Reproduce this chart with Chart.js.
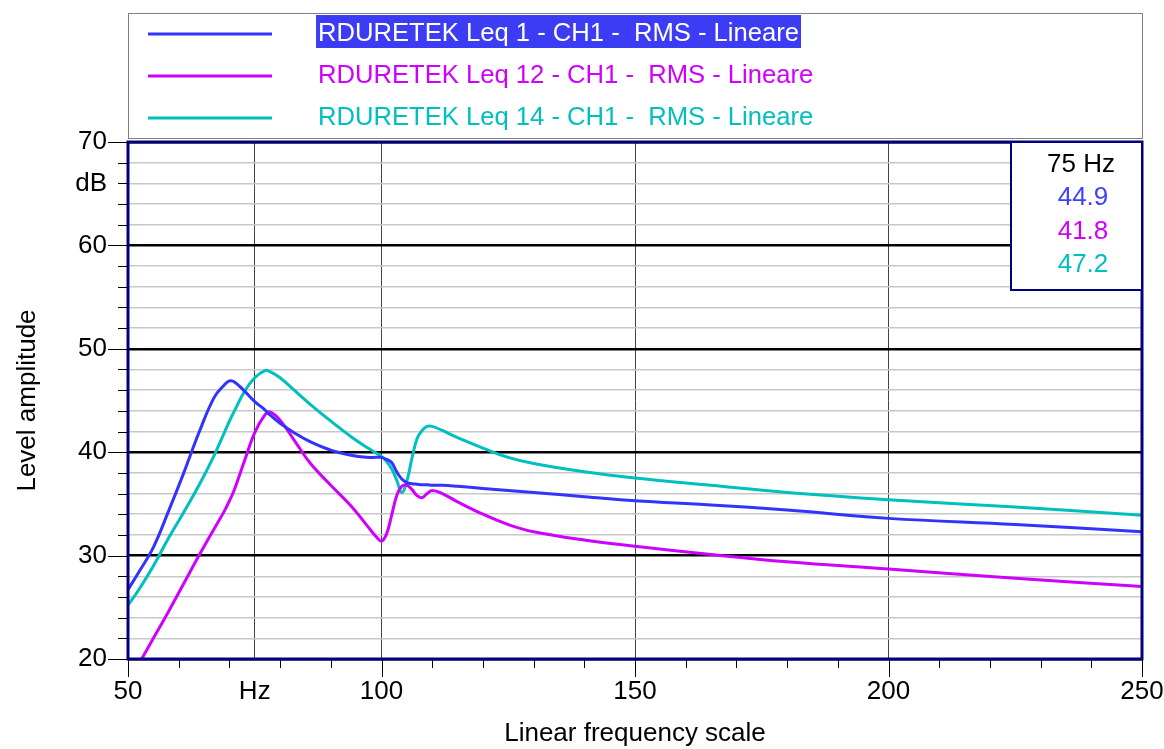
<!DOCTYPE html>
<html>
<head>
<meta charset="utf-8">
<script src="https://cdn.jsdelivr.net/npm/chart.js@4.4.1/dist/chart.umd.min.js"></script>
<style>
  html, body { margin: 0; padding: 0; background: #fff; }
  #wrap { width: 1164px; height: 749px; }
</style>
</head>
<body>
<div id="wrap"><canvas id="chart" width="1164" height="749"></canvas></div>
<script>
// frequency points (Hz) shared by the three traces
var freqs = [50, 52, 55, 58, 61, 64, 67, 69, 70, 71, 73, 75, 77, 78, 80, 83, 86, 90, 94, 97, 99, 100,
             101, 102, 103, 104, 105, 106, 107, 108, 109, 110, 112, 115, 120, 125, 130, 140, 150, 165, 180, 200, 225, 250];

var leq1 = [26.7, 28.3, 30.8, 34.3, 38.0, 41.9, 45.3, 46.5, 46.9, 46.8, 45.9, 44.9, 44.1, 43.6, 42.8, 41.8, 41.0, 40.2, 39.7, 39.5, 39.5, 39.5,
            39.3, 39.0, 38.1, 37.4, 37.05, 36.95, 36.9, 36.85, 36.85, 36.8, 36.8, 36.7, 36.5, 36.3, 36.1, 35.7, 35.3, 34.9, 34.4, 33.6, 33.0, 32.3];

var leq12 = [17.7, 19.4, 22.0, 24.6, 27.3, 30.0, 32.6, 34.3, 35.3, 36.4, 39.2, 41.9, 43.6, 43.9, 43.1, 41.0, 38.9, 36.8, 34.8, 33.0, 31.8, 31.4,
             32.1, 33.9, 35.8, 36.7, 36.8, 36.4, 35.8, 35.6, 36.0, 36.3, 36.0, 35.2, 34.0, 33.0, 32.3, 31.5, 30.9, 30.1, 29.4, 28.7, 27.8, 27.0];

var leq14 = [25.2, 26.6, 29.0, 31.7, 34.2, 36.8, 39.7, 41.9, 43.0, 44.0, 45.9, 47.2, 47.9, 47.8, 47.2, 45.9, 44.6, 43.0, 41.5, 40.5, 39.9, 39.6,
             39.1, 38.4, 37.3, 36.1, 37.2, 39.4, 41.3, 42.1, 42.5, 42.5, 42.1, 41.4, 40.4, 39.5, 38.9, 38.1, 37.5, 36.8, 36.1, 35.4, 34.7, 33.9];

var seriesNames = ["RDURETEK Leq 1 - CH1 -  RMS - Lineare",
                   "RDURETEK Leq 12 - CH1 -  RMS - Lineare",
                   "RDURETEK Leq 14 - CH1 -  RMS - Lineare"];
var seriesColors = ["#3333ff", "#d000ff", "#00bfbf"];

var cursorFreq = 75;
var cursorValues = ["44.9", "41.8", "47.2"];

var xTicks = [50, 60, 70, 75, 80, 90, 100, 110, 120, 130, 140, 150, 160, 170, 180, 190, 200, 210, 220, 230, 240, 250];
var xVertLines = [75, 100, 150, 200];

var FONT = "'Liberation Sans', Arial, sans-serif";

function toPoints(ys) {
    return freqs.map(function (f, i) { return { x: f, y: ys[i] }; });
}

var datasets = [leq1, leq12, leq14].map(function (ys, i) {
    return {
        label: seriesNames[i],
        data: toPoints(ys),
        borderColor: seriesColors[i],
        borderWidth: 3,
        pointRadius: 0,
        tension: 0.4,
        fill: false
    };
});

// legend box, cursor readout, frame and tick marks
var decorations = {
    id: "decorations",
    afterDraw: function (chart) {
        var ctx = chart.ctx;
        var area = chart.chartArea;
        var xs = chart.scales.x, ys = chart.scales.y;
        ctx.save();

        // frame
        ctx.strokeStyle = "#000080";
        ctx.lineWidth = 3;
        ctx.strokeRect(area.left, area.top, area.right - area.left, area.bottom - area.top);

        // tick marks
        ctx.strokeStyle = "#000";
        ctx.lineWidth = 1;
        ys.ticks.forEach(function (t) {
            var py = Math.round(ys.getPixelForValue(t.value)) + 0.5;
            var len = t.value % 10 === 0 ? 20 : 10;
            ctx.beginPath();
            ctx.moveTo(area.left - len, py);
            ctx.lineTo(area.left, py);
            ctx.stroke();
        });
        xs.ticks.forEach(function (t) {
            if (t.value === cursorFreq) return;
            var px = Math.round(xs.getPixelForValue(t.value)) + 0.5;
            var len = t.value % 50 === 0 ? 18 : 9;
            ctx.beginPath();
            ctx.moveTo(px, area.bottom);
            ctx.lineTo(px, area.bottom + len);
            ctx.stroke();
        });

        // legend box above the plot
        var lx = area.left, ly = 13, lw = area.right - area.left, lh = 125;
        ctx.strokeStyle = "#808080";
        ctx.lineWidth = 1;
        ctx.strokeRect(lx + 0.5, ly + 0.5, lw, lh);
        ctx.font = "26px " + FONT;
        ctx.textBaseline = "middle";
        ctx.textAlign = "left";
        chart.data.datasets.forEach(function (ds, i) {
            var rowY = 34 + i * 42;
            ctx.strokeStyle = ds.borderColor;
            ctx.lineWidth = 3;
            ctx.beginPath();
            ctx.moveTo(lx + 20, rowY);
            ctx.lineTo(lx + 144, rowY);
            ctx.stroke();
            var tx = lx + 190;
            ctx.save();
            ctx.translate(tx, rowY);
            ctx.scale(0.985, 1);
            if (i === 0) {
                var w = ctx.measureText(ds.label).width;
                ctx.fillStyle = "#3c3cf5";
                ctx.fillRect(-2, -19, w + 4, 33);
                ctx.fillStyle = "#fff";
            } else {
                ctx.fillStyle = ds.borderColor;
            }
            ctx.fillText(ds.label, 0, 0);
            ctx.restore();
        });

        // cursor readout box
        var bx = 1011, by = area.top, bw = area.right - bx, bh = 148;
        ctx.fillStyle = "#fff";
        ctx.fillRect(bx, by, bw, bh);
        ctx.strokeStyle = "#000080";
        ctx.lineWidth = 2;
        ctx.strokeRect(bx, by, bw, bh);
        ctx.textAlign = "center";
        ctx.fillStyle = "#000";
        ctx.fillText(cursorFreq + " Hz", 1081, 165);
        cursorValues.forEach(function (v, i) {
            ctx.fillStyle = i === 0 ? "#4040ff" : seriesColors[i];
            ctx.fillText(v, 1083, 198 + i * 33.5);
        });

        ctx.restore();
    }
};

new Chart(document.getElementById("chart"), {
    type: "line",
    data: { datasets: datasets },
    options: {
        responsive: false,
        animation: false,
        devicePixelRatio: 1,
        layout: { padding: { top: 142, right: 22, bottom: 0, left: 0 } },
        plugins: { legend: { display: false }, tooltip: { enabled: false } },
        scales: {
            x: {
                type: "linear",
                min: 50,
                max: 250,
                afterBuildTicks: function (scale) {
                    scale.ticks = xTicks.map(function (v) { return { value: v }; });
                },
                afterFit: function (scale) {
                    scale.height = 90;
                    scale.paddingLeft = 0;
                    scale.paddingRight = 0;
                },
                border: { display: false },
                grid: {
                    drawTicks: false,
                    color: function (c) {
                        return c.tick && xVertLines.indexOf(c.tick.value) >= 0 ? "#444" : "rgba(0,0,0,0)";
                    },
                    lineWidth: 1
                },
                ticks: {
                    autoSkip: false,
                    maxRotation: 0,
                    padding: 17,
                    color: "#000",
                    font: { family: FONT, size: 26 },
                    callback: function (v) {
                        if (v === cursorFreq) return "Hz";
                        return v % 50 === 0 ? String(v) : "";
                    }
                },
                title: {
                    display: true,
                    text: "Linear frequency scale",
                    color: "#000",
                    font: { family: FONT, size: 26 },
                    padding: { top: 0, bottom: 0 }
                }
            },
            y: {
                min: 20,
                max: 70,
                afterFit: function (scale) {
                    scale.width = 128;
                    scale.paddingTop = 0;
                    scale.paddingBottom = 0;
                },
                border: { display: false },
                grid: {
                    drawTicks: false,
                    color: function (c) { return c.tick && c.tick.value % 10 === 0 ? "#000" : "#c8c8c8"; },
                    lineWidth: function (c) { return c.tick && c.tick.value % 10 === 0 ? 2.5 : 1.5; }
                },
                ticks: {
                    stepSize: 2,
                    autoSkip: false,
                    padding: 21,
                    color: "#000",
                    font: { family: FONT, size: 26 },
                    callback: function (v) {
                        if (v === 66) return "dB";
                        return v % 10 === 0 ? String(v) : "";
                    }
                },
                title: {
                    display: true,
                    text: "Level amplitude",
                    color: "#000",
                    font: { family: FONT, size: 26 },
                    padding: { top: 12, bottom: 0 }
                }
            }
        }
    },
    plugins: [decorations]
});
</script>
</body>
</html>
